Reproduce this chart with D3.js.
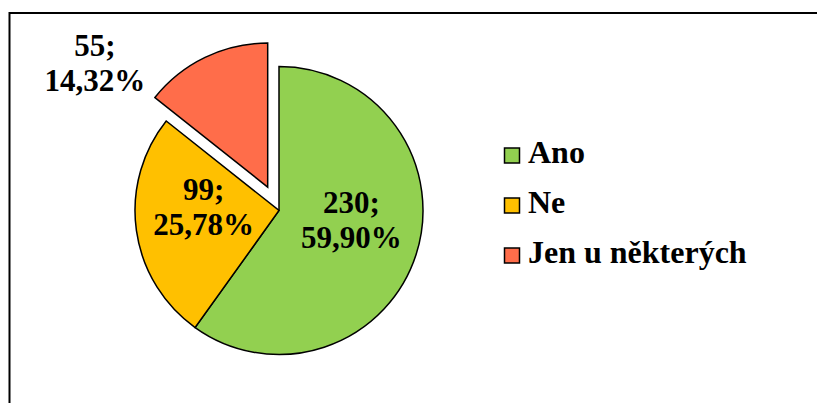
<!DOCTYPE html>
<html>
<head>
<meta charset="utf-8">
<script src="https://cdn.jsdelivr.net/npm/d3@7"></script>
<style>
	body { margin: 0; background: #fff; }
</style>
</head>
<body>
<div id="chart"></div>
<script>
const categories = ['Ano', 'Ne', 'Jen u některých']
const counts = [230, 99, 55]
const percents = ['59,90%', '25,78%', '14,32%']
const colors = ['#92d050', '#ffc000', '#ff6d4a']
const exploded = [false, false, true]

const width = 817
const height = 403
const cx = 279
const cy = 210.5
const radius = 144
const FONT = "'Liberation Serif', 'Times New Roman', serif"

const svg = d3.select('#chart')
	.append('svg')
		.attr('width', width)
		.attr('height', height)
		.style('font-family', FONT)
		.style('font-weight', 'bold')

// outer frame, cut off at right and bottom like the original
svg.append('rect')
	.attr('x', 9.5)
	.attr('y', 13)
	.attr('width', 900)
	.attr('height', 500)
	.attr('fill', 'none')
	.attr('stroke', '#000')
	.attr('stroke-width', 2)

const data = categories.map((c, i) => ({ name: c, value: counts[i], pct: percents[i], color: colors[i], out: exploded[i] }))

const pie = d3.pie()
	.value(d => d.value)
	.sort(null)

const arc = d3.arc()
	.innerRadius(0)
	.outerRadius(radius)

const arcs = pie(data)

// pull the exploded slice out along its mid angle
const offset = d => {
	if (!d.data.out) return [0, 0]
	const a = (d.startAngle + d.endAngle) / 2
	return [Math.sin(a) * 26, -Math.cos(a) * 26]
}

const g = svg.append('g')
	.attr('transform', `translate(${cx},${cy})`)

g.selectAll('path')
	.data(arcs)
	.join('path')
		.attr('d', arc)
		.attr('transform', d => `translate(${offset(d)})`)
		.attr('fill', d => d.data.color)
		.attr('stroke', '#000')
		.attr('stroke-width', 1.5)

const inArc = d3.arc().innerRadius(76).outerRadius(76)

const labelPos = d => {
	if (d.data.out) {
		// outside label sits near the slice's start edge
		const r = 235
		return [Math.sin(d.startAngle) * r, -Math.cos(d.startAngle) * r]
	}
	const [x, y] = inArc.centroid(d)
	return [x, y - 13]
}

const labels = g.selectAll('text.lbl')
	.data(arcs)
	.join('text')
		.attr('class', 'lbl')
		.attr('text-anchor', 'middle')
		.attr('fill', '#000')
		.style('font-size', '31px')
		.attr('transform', d => `translate(${labelPos(d)})`)

labels.append('tspan')
	.attr('x', 0)
	.attr('y', -8)
	.text(d => d.data.value + ';')
labels.append('tspan')
	.attr('x', 0)
	.attr('y', 27)
	.text(d => d.data.pct)

const legend = svg.append('g')
	.attr('transform', 'translate(504,163)')

const item = legend.selectAll('g')
	.data(data)
	.join('g')
		.attr('transform', (d, i) => `translate(0,${i * 50})`)

item.append('rect')
	.attr('x', 0.5)
	.attr('y', -15)
	.attr('width', 15)
	.attr('height', 15)
	.attr('fill', d => d.color)
	.attr('stroke', '#000')
	.attr('stroke-width', 1.5)

item.append('text')
	.attr('x', 24)
	.attr('y', 0)
	.attr('fill', '#000')
	.style('font-size', '32px')
	.text(d => d.name)
</script>
</body>
</html>
